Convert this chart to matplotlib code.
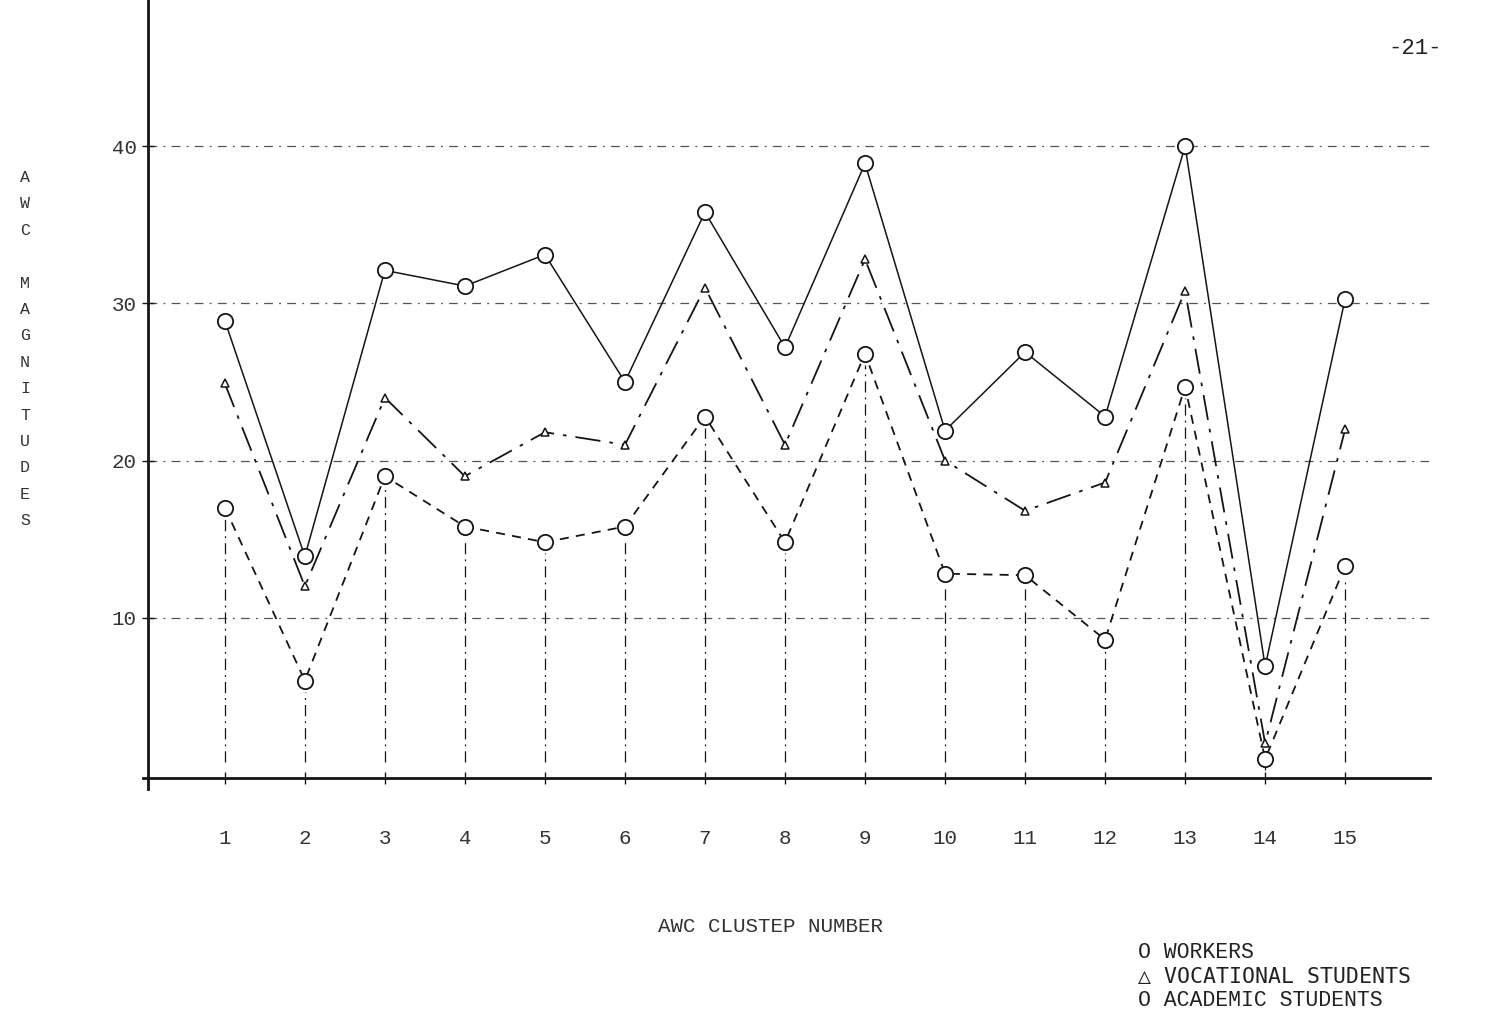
#AWC magnitudes by cluster for three groups, redrawn from a scanned typewriter-style figure
import matplotlib.pyplot as plt
import numpy as np

#values
clusters = [1, 2, 3, 4, 5, 6, 7, 8, 9, 10, 11, 12, 13, 14, 15]
cluster_labels = ["1", "2", "3", "4", "5", "6", "7", "8", "9", "10", "11", "12", "13", "14", "15"]
workers = [28.9, 13.9, 32.1, 31.1, 33.1, 25.0, 35.8, 27.2, 38.9, 21.9, 26.9, 22.8, 40.0, 6.9, 30.3]
vocational = [24.9, 12.0, 24.0, 19.0, 21.8, 21.0, 31.0, 21.0, 32.8, 20.0, 16.8, 18.6, 30.8, 2.0, 22.0]
academic = [17.0, 6.0, 19.0, 15.8, 14.8, 15.8, 22.8, 14.8, 26.8, 12.8, 12.7, 8.6, 24.7, 1.0, 13.3]
grid_values = [10, 20, 30, 40]

ink = "#151515"
font = ["Liberation Mono", "DejaVu Sans Mono"]
plt.rcParams["font.family"] = font

fig = plt.figure(figsize=(14.85, 10.25), dpi=100)
ax = fig.add_axes([148 / 1485, 1 - 778 / 1025, (1430 - 148) / 1485, 778 / 1025])
ax.set_xlim(0.04, 16.06)
ax.set_ylim(-0.2, 49.3)

#dash-dot grid lines
for g in grid_values:
    ax.axhline(g, xmax=1.0, color="#555555", lw=0.9, linestyle=(0, (7, 5, 1.5, 5)), zorder=1)

#vertical drop lines from the axis up to the lowest point
x = np.array(clusters)
ax.vlines(x, 0.8, np.array(academic) - 0.7, color=ink, lw=0.9,
          linestyle=(0, (9, 4, 1.5, 4)), zorder=1)

ax.plot(x, workers, color=ink, lw=1.1, linestyle="-", marker="o", ms=11,
        mfc="white", mec=ink, mew=1.3, zorder=3)
ax.plot(x, vocational, color=ink, lw=1.3, linestyle=(0, (14, 5, 2, 5)), marker="^", ms=6,
        mfc="white", mec=ink, mew=1.1, zorder=3)
ax.plot(x, academic, color=ink, lw=1.3, linestyle=(0, (5, 4)), marker="o", ms=11,
        mfc="white", mec=ink, mew=1.3, zorder=3)

for side in ["top", "right"]:
    ax.spines[side].set_visible(False)
ax.spines["left"].set_linewidth(2.0)
ax.spines["bottom"].set_linewidth(2.0)
ax.spines["left"].set_color(ink)
ax.spines["bottom"].set_color(ink)
#the hand-drawn axes run a little past the corner
ax.spines["left"].set_bounds(-0.9, 49.3)
ax.plot([-0.02, 0.04], [-0.2, -0.2], color=ink, lw=2.0, clip_on=False)

ax.set_xticks(clusters)
ax.set_xticklabels(cluster_labels, fontsize=15, color="#333333")
ax.set_yticks(grid_values)
ax.set_yticklabels([str(v) for v in grid_values], fontsize=15, color="#333333")
ax.tick_params(axis="x", direction="inout", length=8, width=1, pad=33, colors=ink, labelcolor="#333333")
ax.tick_params(axis="y", direction="inout", length=8, width=1, pad=4, colors=ink, labelcolor="#333333")

#stacked vertical y label
fig.text(25 / 1485, 1 - 349 / 1025, "A\nW\nC\n\nM\nA\nG\nN\nI\nT\nU\nD\nE\nS",
         ha="center", va="center", fontsize=12, linespacing=1.95, color="#333333")

fig.text(771 / 1485, 1 - 927 / 1025, "AWC CLUSTEP NUMBER", ha="center", va="center",
         fontsize=15, color="#333333")
fig.text(1415 / 1485, 1 - 48 / 1025, "-21-", ha="center", va="center", fontsize=16, color="#222222")

#legend written as plain text like the typed original
fig.text(1138 / 1485, 1 - 953 / 1025, "O WORKERS", ha="left", va="center", fontsize=15.5, color="#222222")
fig.text(1138 / 1485, 1 - 977 / 1025, "\u25b3 VOCATIONAL STUDENTS", ha="left", va="center",
         fontsize=15.5, color="#222222", family=["DejaVu Sans Mono", "Liberation Mono"])
fig.text(1138 / 1485, 1 - 1001 / 1025, "O ACADEMIC STUDENTS", ha="left", va="center", fontsize=15.5, color="#222222")

fig.savefig("out.png", dpi=100)
